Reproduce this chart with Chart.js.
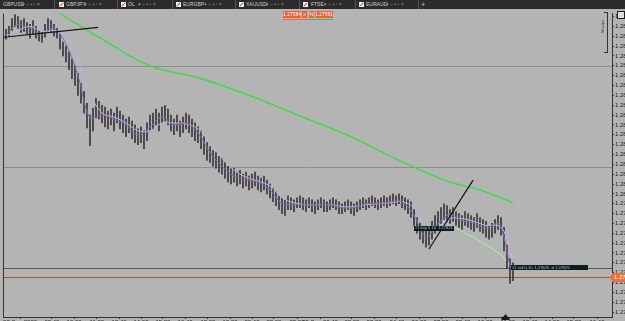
<!DOCTYPE html>
<html><head><meta charset="utf-8">
<script src="https://cdn.jsdelivr.net/npm/chart.js@4.4.0/dist/chart.umd.min.js"></script>
<style>
html,body{margin:0;padding:0}
body{width:625px;height:321px;overflow:hidden;position:relative;background:#b4b4b4;font-family:'Liberation Sans',sans-serif}
#tabs{position:absolute;left:0;top:0;width:625px;height:9px;background:#2b2b2b;color:#cfcfcf;font-size:5px;line-height:9px;z-index:3}
#tabs span{position:absolute;top:0;white-space:nowrap}
.cb{position:absolute;top:2px;width:5px;height:5px;background:#f2f2f2}
.cb:after{content:"";position:absolute;left:2px;top:0;width:1px;height:5px;background:#d03030;transform:rotate(45deg)}
.sep{position:absolute;top:0;width:1px;height:9px;background:#555}
.ic{color:#9a9a9a}
#wrap{position:absolute;left:0;top:9px;width:660px;height:325px}
.btn{position:absolute;top:11px;height:7px;background:#e8643c;color:#fff;font-size:5px;line-height:7px;text-align:center;z-index:3}
</style></head>
<body>
<div id="tabs">
  <span style="left:3px">GBPUSD</span><span class="ic" style="left:22px">▾ ⌐ ▪ ▫ ×</span><div class="sep" style="left:54px"></div>
  <div class="cb" style="left:59px"></div><span style="left:66px">GBPJPY</span><span class="ic" style="left:84px">▾ ⌐ ▪ ▫ ×</span><div class="sep" style="left:117px"></div>
  <div class="cb" style="left:121px"></div><span style="left:128px">OL</span><span class="ic" style="left:138px">▾ ⌐ ▪ ▫ ×</span><div class="sep" style="left:172px"></div>
  <div class="cb" style="left:176px"></div><span style="left:183px">EURGBP</span><span class="ic" style="left:204px">▾ ⌐ ▪ ▫ ×</span><div class="sep" style="left:235px"></div>
  <div class="cb" style="left:239px"></div><span style="left:246px">XAUUSD</span><span class="ic" style="left:266px">▾ ⌐ ▪ ▫ ×</span><div class="sep" style="left:299px"></div>
  <div class="cb" style="left:303px"></div><span style="left:311px">FTSE</span><span class="ic" style="left:324px">▾ ⌐ ▪ ▫ ×</span><div class="sep" style="left:355px"></div>
  <div class="cb" style="left:359px"></div><span style="left:366px">EURAUD</span><span class="ic" style="left:386px">▾ ⌐ ▪ ▫ ×</span><div class="sep" style="left:418px"></div>
  <span style="left:421px;font-size:7px">+</span>
</div>
<div class="btn" style="left:283px;width:18px">1.27584</div>
<div class="btn" style="left:302px;width:5px">x</div>
<div class="btn" style="left:309px;width:5px">%</div>
<div class="btn" style="left:315px;width:18px">1.27591</div>
<div style="position:absolute;left:283px;top:19px;width:26px;height:1px;background:#e8743b;z-index:3"></div>
<div style="position:absolute;left:309px;top:19px;width:24px;height:1px;background:#3fbf5f;z-index:3"></div>
<div style="position:absolute;left:607px;top:12px;width:1px;height:41px;background:#333;z-index:3"></div>
<div style="position:absolute;left:604px;top:12px;width:4px;height:1px;background:#333;z-index:3"></div>
<div style="position:absolute;left:604px;top:52px;width:4px;height:1px;background:#333;z-index:3"></div>
<div style="position:absolute;left:596px;top:24px;font-size:4px;color:#222;transform:rotate(-90deg);z-index:3;white-space:nowrap">56 pips</div>
<div style="position:absolute;left:617px;top:11px;width:6px;height:6px;border:1px solid #222;background:#ddd;z-index:3"></div>
<div id="wrap"><canvas id="c" width="660" height="325"></canvas></div>
<script>
// ---- data (GBPUSD, bar index -> price) ----
const barHigh = [1.28835,1.28850,1.28890,1.28910,1.28900,1.28880,1.28890,1.28870,1.28860,1.28880,
1.28850,1.28830,1.28820,1.28860,1.28890,1.28880,1.28860,1.28840,1.28810,1.28770,
1.28750,1.28720,1.28685,1.28650,1.28610,1.28560,1.28520,1.28460,1.28400,1.28435,
1.28485,1.28470,1.28450,1.28440,1.28420,1.28430,1.28410,1.28440,1.28420,1.28400,
1.28380,1.28390,1.28370,1.28350,1.28330,1.28340,1.28320,1.28360,1.28400,1.28410,
1.28430,1.28410,1.28440,1.28450,1.28430,1.28400,1.28380,1.28400,1.28370,1.28390,
1.28410,1.28400,1.28380,1.28360,1.28340,1.28320,1.28290,1.28260,1.28240,1.28220,
1.28210,1.28190,1.28180,1.28160,1.28140,1.28130,1.28130,1.28110,1.28120,1.28100,
1.28110,1.28090,1.28100,1.28110,1.28090,1.28080,1.28090,1.28070,1.28050,1.28030,
1.28010,1.27990,1.27980,1.27970,1.27990,1.27980,1.27970,1.27980,1.27990,1.27980,
1.27970,1.27980,1.27970,1.27960,1.27970,1.27980,1.27970,1.27960,1.27970,1.27980,
1.27970,1.27960,1.27950,1.27960,1.27970,1.27960,1.27950,1.27960,1.27970,1.27980,
1.27970,1.27980,1.27990,1.27980,1.27970,1.27980,1.27990,1.27980,1.27990,1.28000,
1.27990,1.28000,1.27990,1.27980,1.27970,1.27960,1.27920,1.27880,1.27850,1.27830,
1.27820,1.27830,1.27860,1.27890,1.27910,1.27930,1.27950,1.27940,1.27920,1.27930,
1.27910,1.27900,1.27890,1.27910,1.27900,1.27890,1.27880,1.27900,1.27880,1.27870,
1.27860,1.27840,1.27850,1.27870,1.27890,1.27880,1.27830,1.27740,1.27670,1.27650];
const barLow = [1.28785,1.28800,1.28830,1.28850,1.28840,1.28820,1.28825,1.28810,1.28790,1.28810,
1.28790,1.28775,1.28770,1.28795,1.28830,1.28820,1.28800,1.28790,1.28735,1.28700,
1.28670,1.28630,1.28585,1.28550,1.28500,1.28460,1.28410,1.28335,1.28245,1.28320,
1.28385,1.28380,1.28360,1.28340,1.28330,1.28350,1.28320,1.28360,1.28330,1.28310,
1.28290,1.28310,1.28280,1.28260,1.28250,1.28260,1.28230,1.28270,1.28320,1.28330,
1.28350,1.28320,1.28360,1.28370,1.28350,1.28320,1.28300,1.28320,1.28290,1.28310,
1.28330,1.28310,1.28290,1.28270,1.28260,1.28230,1.28200,1.28170,1.28160,1.28140,
1.28130,1.28110,1.28100,1.28080,1.28060,1.28050,1.28060,1.28040,1.28050,1.28030,
1.28040,1.28020,1.28030,1.28040,1.28020,1.28010,1.28020,1.28000,1.27980,1.27960,
1.27940,1.27920,1.27900,1.27890,1.27920,1.27920,1.27910,1.27930,1.27930,1.27920,
1.27910,1.27930,1.27910,1.27900,1.27920,1.27930,1.27910,1.27910,1.27920,1.27930,
1.27920,1.27900,1.27900,1.27910,1.27920,1.27900,1.27890,1.27910,1.27920,1.27930,
1.27920,1.27930,1.27940,1.27930,1.27920,1.27930,1.27940,1.27930,1.27940,1.27950,
1.27940,1.27950,1.27930,1.27920,1.27900,1.27880,1.27840,1.27800,1.27770,1.27750,
1.27730,1.27740,1.27770,1.27800,1.27820,1.27850,1.27870,1.27860,1.27850,1.27860,
1.27840,1.27830,1.27820,1.27840,1.27830,1.27820,1.27810,1.27830,1.27810,1.27800,
1.27780,1.27770,1.27780,1.27800,1.27820,1.27790,1.27710,1.27620,1.27545,1.27560];

const maIdx = [0,4,8,12,16,20,24,28,32,36,40,44,48,52,56,60,64,68,72,76,80,84,88,92,96,100,104,108,112,116,120,124,128,132,136,140,144,148,152,156,160,164,166,168,169];
const maFast = [1.28810,1.28860,1.28840,1.28810,1.28840,1.28760,1.28600,1.28385,1.28400,1.28380,1.28350,1.28300,1.28340,1.28390,1.28350,1.28360,1.28310,1.28210,1.28140,1.28090,1.28070,1.28060,1.28020,1.27950,1.27945,1.27945,1.27945,1.27945,1.27930,1.27930,1.27950,1.27950,1.27960,1.27960,1.27890,1.27780,1.27850,1.27895,1.27865,1.27850,1.27825,1.27850,1.27780,1.27635,1.27610];
const maSlow = [1.28800,1.28830,1.28850,1.28825,1.28830,1.28800,1.28685,1.28510,1.28410,1.28390,1.28360,1.28320,1.28320,1.28360,1.28360,1.28355,1.28330,1.28260,1.28180,1.28120,1.28085,1.28065,1.28040,1.27980,1.27955,1.27945,1.27945,1.27945,1.27935,1.27935,1.27945,1.27950,1.27955,1.27960,1.27930,1.27830,1.27830,1.27875,1.27875,1.27860,1.27840,1.27840,1.27810,1.27710,1.27670];

const longMaIdx = [16,18,31,48,65,81,98,115,131,148,158,169];
const longMa = [1.28940,1.28915,1.28795,1.28650,1.28585,1.28500,1.28395,1.28290,1.28170,1.28060,1.28020,1.27955];

const projIdx = [150,158,165,168];
const projLine = [1.27825,1.27760,1.27690,1.27635];

const trend1Idx = [-0.7,30.7];
const trend1 = [1.28795,1.28845];
const trend2Idx = [141,155.7];
const trend2 = [1.27720,1.28070];

const levelsGray = [1.28650,1.28135];
const levelDark = 1.27625;
const currentPrice = 1.27580;

const boxes = [
  {from:136, to:149.3, price:1.27825, text:"#1 buy 0.10  1.27823"},
  {from:168.3, to:194, price:1.27625, text:"#2 sell 0.10  1.27626  sl 1.27625"}
];

const timeTickIdx = [4.7,15.3,22.7,30.3,37.7,45,52.3,59.7,67.3,74.7,82,89.3,97,104.7,115.3,122.7,130.3,137.7,145,152.3,159.7,167.3,174.7,182,189.3,197];
const timeLabels = ["28 Sep 2020","08:40","10:00","11:20","12:40","14:00","15:20","16:40","18:00","19:20","20:40","22:00","23:20","29 Sep 00:40","02:00","03:20","04:40","06:00","07:20","08:40","10:00","11:20","12:40","14:00","15:20","16:40"];

// ---- chart ----
const pts = (xs, ys) => xs.map((x,i)=>({x:x, y:ys[i]}));
const barData = barHigh.map((h,i)=>({x:i, y:[barLow[i], h]}));

const overlay = {
  id:'overlay',
  beforeDatasetsDraw(chart){
    const {ctx, chartArea:a, scales:{x,y}} = chart;
    ctx.save();
    ctx.lineWidth = 1;
    levelsGray.forEach(v=>{
      const py = Math.round(y.getPixelForValue(v))+0.5;
      ctx.strokeStyle = '#8e8e8e';
      ctx.beginPath(); ctx.moveTo(a.left,py); ctx.lineTo(a.right,py); ctx.stroke();
    });
    let py = Math.round(y.getPixelForValue(levelDark))+0.5;
    ctx.strokeStyle = '#5a5a5a';
    ctx.beginPath(); ctx.moveTo(a.left,py); ctx.lineTo(a.right,py); ctx.stroke();
    py = Math.round(y.getPixelForValue(currentPrice))+0.5;
    ctx.strokeStyle = '#a65a36';
    ctx.beginPath(); ctx.moveTo(a.left,py); ctx.lineTo(a.right,py); ctx.stroke();
    ctx.strokeStyle = '#333';
    ctx.beginPath(); ctx.moveTo(a.left+0.5,a.top); ctx.lineTo(a.left+0.5,a.bottom); ctx.stroke();
    ctx.restore();
  },
  afterDatasetsDraw(chart){
    const {ctx, chartArea:a, scales:{x,y}} = chart;
    ctx.save();
    boxes.forEach(b=>{
      const x1 = x.getPixelForValue(b.from), x2 = x.getPixelForValue(b.to);
      const cy = y.getPixelForValue(b.price);
      ctx.fillStyle = '#0f1c22';
      ctx.fillRect(Math.round(x1), Math.round(cy-2.5), Math.round(x2-x1), 5);
      ctx.fillStyle = '#a8c8b8';
      ctx.font = '4px "Liberation Sans"';
      ctx.textBaseline = 'middle';
      ctx.fillText(b.text, x1+1, cy, x2-x1-2);
    });
    ctx.restore();
  },
  afterDraw(chart){
    const {ctx, chartArea:a, scales:{x,y}} = chart;
    ctx.save();
    const cy = Math.round(y.getPixelForValue(currentPrice));
    ctx.fillStyle = '#e8703e';
    ctx.fillRect(a.right, cy-4, 40, 9);
    ctx.beginPath(); ctx.moveTo(a.right-2, cy+0.5); ctx.lineTo(a.right, cy-3); ctx.lineTo(a.right, cy+4); ctx.fill();
    ctx.fillStyle = '#ffffff';
    ctx.font = '6px "Liberation Sans"';
    ctx.textBaseline = 'middle';
    ctx.fillText(currentPrice.toFixed(5), a.right+2, cy+0.5);
    const mx = x.getPixelForValue(166.5);
    ctx.fillStyle = '#1a1a1a';
    ctx.beginPath(); ctx.moveTo(mx-4,a.bottom+2); ctx.lineTo(mx+4,a.bottom+2); ctx.lineTo(mx,a.bottom-3); ctx.fill();
    ctx.fillRect(mx-4,a.bottom,8,3);
    ctx.restore();
  }
};

new Chart(document.getElementById('c'), {
  type:'bar',
  data:{datasets:[
    {type:'line', data:pts(longMaIdx,longMa), borderColor:'#45d84c', borderWidth:1.6, pointRadius:0, tension:0.4, order:6},
    {type:'line', data:pts(projIdx,projLine), borderColor:'#a6e69c', borderWidth:1.2, pointRadius:0, tension:0.3, order:6},
    {type:'bar', data:barData, backgroundColor:'#383838', barThickness:1, order:5},
    {type:'line', data:pts(maIdx,maSlow), borderColor:'#c4aee6', borderWidth:1, pointRadius:0, tension:0.35, order:4},
    {type:'line', data:pts(maIdx,maFast), borderColor:'#8a62be', borderWidth:1, pointRadius:0, tension:0.35, order:3},
    {type:'line', data:pts(trend1Idx,trend1), borderColor:'#111', borderWidth:1.2, pointRadius:0, order:1},
    {type:'line', data:pts(trend2Idx,trend2), borderColor:'#111', borderWidth:1.2, pointRadius:0, order:1}
  ]},
  options:{
    responsive:false, animation:false, devicePixelRatio:1,
    layout:{autoPadding:false, padding:{left:3,top:0,right:0,bottom:0}},
    plugins:{legend:{display:false}, tooltip:{enabled:false}},
    scales:{
      x:{type:'linear', min:-1, max:202, offset:false,
         grid:{display:true, drawOnChartArea:false, tickLength:2, color:'#333', offset:false},
         border:{display:true, color:'#333'},
         afterBuildTicks(s){ s.ticks = timeTickIdx.map(v=>({value:v})); },
         afterFit(s){ s.height = 17; },
         ticks:{autoSkip:false, maxRotation:0, minRotation:0, padding:0, color:'#222',
                font:{family:'Liberation Sans', size:6},
                callback(v, i){ return timeLabels[i]; }}},
      y:{type:'linear', position:'right', min:1.27375, max:1.28915,
         grid:{display:true, drawOnChartArea:false, tickLength:2, color:'#333'},
         border:{display:true, color:'#333'},
         afterFit(s){ s.width = 48; },
         ticks:{stepSize:0.0005, includeBounds:false, autoSkip:false, padding:1, color:'#222',
                font:{family:'Liberation Sans', size:6},
                callback(v){ return v.toFixed(5); }}}
    }
  },
  plugins:[overlay]
});
</script>
</body></html>
